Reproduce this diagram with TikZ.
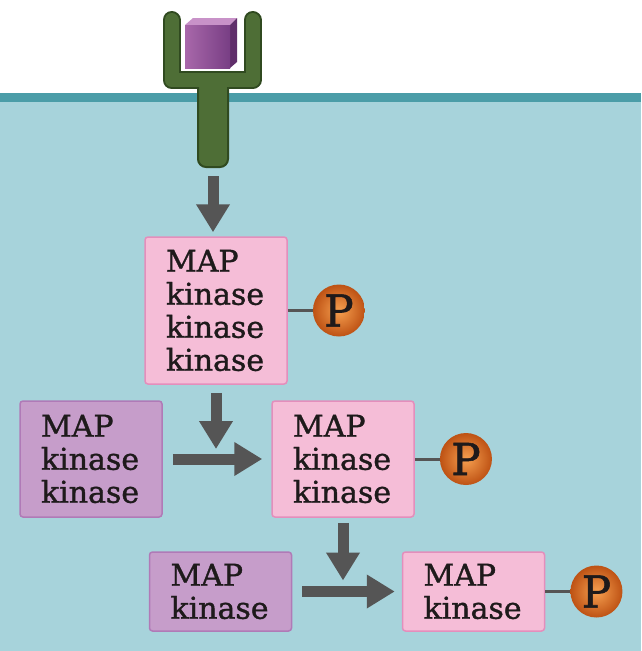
\documentclass[tikz,border=0pt]{standalone}
\usepackage{fontspec}
\setmainfont{DejaVu Serif}[BoldFont={DejaVu Serif}, BoldFeatures={FakeBold=1.2}]
\usetikzlibrary{positioning, arrows.meta}
\tikzset{>={Triangle[length=28pt, width=32pt]}}

\definecolor{cellblue}{RGB}{167,211,219}
\definecolor{membrane}{RGB}{75,157,168}
\definecolor{kpink}{RGB}{245,189,215}
\definecolor{kpinkline}{RGB}{228,142,188}
\definecolor{kpurple}{RGB}{198,157,202}
\definecolor{kpurpleline}{RGB}{176,122,183}
\definecolor{flowgray}{RGB}{85,85,85}
\definecolor{rgreen}{RGB}{78,110,54}
\definecolor{rgreendark}{RGB}{48,74,32}
\definecolor{porange}{RGB}{246,160,80}
\definecolor{porangedark}{RGB}{190,82,20}
\definecolor{cubefront}{RGB}{168,104,170}
\definecolor{cubefrontdark}{RGB}{120,62,132}
\definecolor{cubetop}{RGB}{200,146,200}
\definecolor{cubeside}{RGB}{96,46,106}
\definecolor{ink}{RGB}{30,26,27}

\begin{document}
\begin{tikzpicture}[x=1pt, y=-1pt, node distance=25pt,
    kinase/.style={line width=1.5pt, rounded corners=3pt, text width=100pt,
        align=left, inner xsep=21pt, inner ysep=0pt, text=ink,
        font=\fontsize{30}{33}\selectfont\bfseries},
    active/.style={kinase, draw=kpinkline, fill=kpink},
    inactive/.style={kinase, draw=kpurpleline, fill=kpurple},
    phos/.style={circle, minimum size=52pt, inner sep=0pt, shading=radial,
        inner color=porange, outer color=porangedark, text=ink,
        font=\fontsize{44}{44}\selectfont\bfseries},
    bond/.style={draw=flowgray, line width=3pt},
    flow/.style={->, draw=flowgray, line width=11pt}]
    \useasboundingbox (0,0) rectangle (641,651);
    \fill[white] (0,0) rectangle (641,93);
    \fill[cellblue] (0,93) rectangle (641,651);
    \fill[membrane] (0,93) rectangle (641,102);

    % receptor with its ligand
    \draw[rgreendark, line width=18pt, line cap=round, line join=round]
        (171.5,20) -- (171.5,80) -- (252.5,80) -- (252.5,20);
    \node[draw=rgreendark, fill=rgreen, line width=2pt, rounded corners=8pt,
        minimum width=30pt, minimum height=89pt, inner sep=0pt] (stem) at (213,122.5) {};
    \draw[rgreen, line width=14pt, line cap=round, line join=round]
        (171.5,20) -- (171.5,80) -- (252.5,80) -- (252.5,20);
    \fill[cubetop] (185,25) -- (193,18) -- (237,18) -- (230,25) -- cycle;
    \fill[cubeside] (230,25) -- (237,18) -- (237,62) -- (230,68) -- cycle;
    \shade[left color=cubefront, right color=cubefrontdark] (185,25) rectangle (230,68);

    \node[active, minimum height=147pt] (mkkk) at (216,310.5) {MAP\\kinase\\kinase\\kinase};
    \node[inactive, minimum height=116pt] (mkk) at (91,459) {MAP\\kinase\\kinase};
    \node[active, minimum height=116pt] (mkkp) at (343,459) {MAP\\kinase\\kinase};
    \node[inactive, minimum height=79pt] (mk) at (220.5,591.5) {MAP\\kinase};
    \node[active, minimum height=79pt] (mkp) at (473.5,591.5) {MAP\\kinase};

    \node[phos, right=of mkkk] (p1) {P};
    \node[phos, right=of mkkp] (p2) {P};
    \node[phos, right=of mkp] (p3) {P};
    \draw[bond] (mkkk) -- (p1);
    \draw[bond] (mkkp) -- (p2);
    \draw[bond] (mkp) -- (p3);

    \coordinate (j1) at (mkkk.south |- mkk.east);
    \coordinate (j2) at (mkkp.south |- mk.east);
    \draw[flow, shorten <=8pt, shorten >=4pt] (stem.south) -- (stem.south |- mkkk.north);
    \draw[flow, shorten <=8pt, shorten >=10pt] (mkkk.south) -- (j1);
    \draw[flow, shorten <=10pt, shorten >=9pt] (mkk) -- (mkkp);
    \draw[flow, shorten <=5pt, shorten >=11pt] (mkkp.south) -- (j2);
    \draw[flow, shorten <=10pt, shorten >=7pt] (mk) -- (mkp);
\end{tikzpicture}
\end{document}
